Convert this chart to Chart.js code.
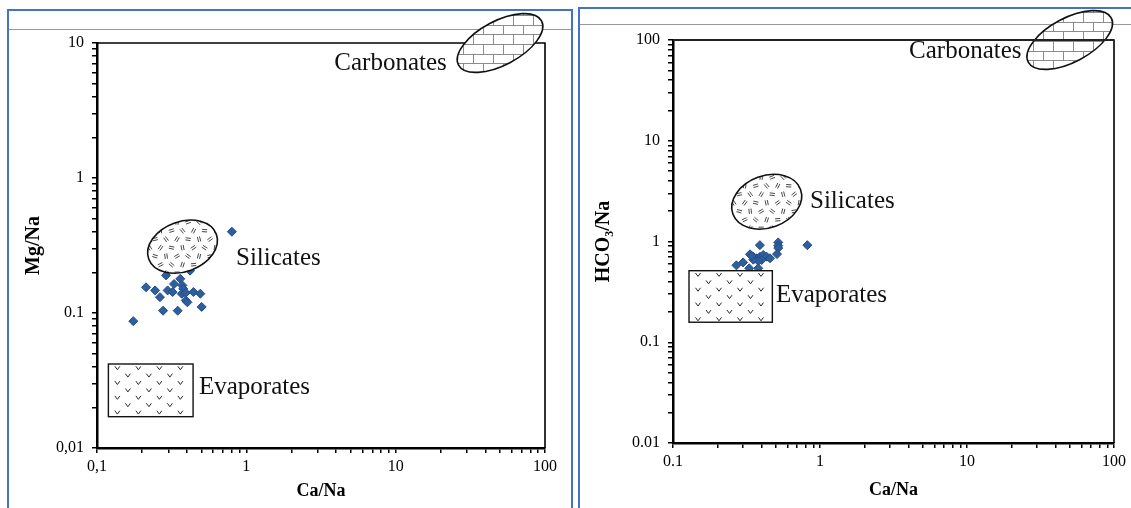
<!DOCTYPE html>
<html>
<head>
<meta charset="utf-8">
<script src="https://cdn.jsdelivr.net/npm/chart.js@4.4.1/dist/chart.umd.min.js"></script>
<style>
html,body{margin:0;padding:0;background:#fff;width:1131px;height:508px;overflow:hidden}
.panel{position:absolute;border:2px solid #4472C4;border-bottom:none;box-sizing:border-box}
#pl{left:7px;top:9px;width:566px;height:520px}
#pr{left:578px;top:7px;width:600px;height:520px}
.rule{position:absolute;left:0;right:0;height:0;border-top:1.5px solid #999}
canvas{position:absolute;top:0}
#cl{left:0}
#cr{left:575px}
</style>
</head>
<body>
<div class="panel" id="pl"><div class="rule" style="top:18px"></div></div>
<div class="panel" id="pr"><div class="rule" style="top:15px"></div></div>
<canvas id="cl" width="575" height="508"></canvas>
<canvas id="cr" width="556" height="508"></canvas>
<script>
/* ─ data: left panel, Ca/Na vs Mg/Na ─ */
const caNaL=[0.80,0.175,0.213,0.245,0.264,0.29,0.277,0.297,0.321,0.328,0.361,0.347,0.373,0.378,0.369,0.393,0.393,0.403,0.442,0.492,0.502,0.42];
const mgNa =[0.40,0.087,0.155,0.147,0.131,0.19,0.104,0.147,0.143,0.164,0.179,0.104,0.160,0.151,0.139,0.141,0.124,0.120,0.143,0.139,0.111,0.206];

/* ─ data: right panel, Ca/Na vs HCO3/Na ─ */
const caNaR =[0.39,0.52,0.52,0.52,0.82,0.51,0.27,0.30,0.334,0.352,0.371,0.391,0.411,0.434,0.457,0.401,0.38,0.352,0.343,0.33,0.38];
const hco3Na=[0.92,0.98,0.91,0.86,0.92,0.75,0.58,0.62,0.746,0.706,0.681,0.706,0.735,0.706,0.681,0.655,0.64,0.66,0.72,0.542,0.542];

/* ─ axis decades + labels ─ */
const xDecades=[0.1,1,10,100];
const xLabelsL=['0,1','1','10','100'];
const xLabelsR=['0.1','1','10','100'];
const yDecadesL=[0.01,0.1,1,10];
const yLabelsL=['0,01','0.1','1','10'];
const yDecadesR=[0.01,0.1,1,10,100];
const yLabelsR=['0.01','0.1','1','10','100'];

const regionNames=['Carbonates','Silicates','Evaporates'];

const FONT='"Liberation Serif","Times New Roman",serif';

const lbl=(decs,labs)=>v=>{const i=decs.findIndex(d=>Math.abs(v/d-1)<1e-6);return i<0?'':labs[i]};
const logTicks=decs=>{const t=[];decs.forEach((d,i)=>{if(i<decs.length-1){for(let k=1;k<10;k++)t.push({value:d*k})}else t.push({value:d})});return t};

/* ─ fills ─ */
function bricks(c,cx,cy,rx,ry){
  const h=9.6,w=20;
  c.strokeStyle='#8c8c8c';c.lineWidth=1;c.beginPath();
  let row=0;
  for(let y=cy-ry-h*2;y<=cy+ry+h;y+=h,row++){
    const yy=Math.round(y)+0.5;
    c.moveTo(cx-rx-w,yy);c.lineTo(cx+rx+w,yy);
    const off=(row%2)*w/2;
    for(let x=cx-rx-w+off;x<=cx+rx+w;x+=w){const xx=Math.round(x)+0.5;c.moveTo(xx,yy);c.lineTo(xx,yy+h)}
  }
  c.stroke();
}
function dashes(c,cx,cy,rx,ry){
  c.strokeStyle='#333';c.lineWidth=0.9;c.beginPath();
  let k=0,row=0;
  for(let y=cy-ry+3;y<=cy+ry;y+=8.5,row++){
    for(let x=cx-rx+3+(row%2)*5.5;x<=cx+rx;x+=11,k++){
      const ang=((k*67+row*29)%180)*Math.PI/180;
      const dx=Math.cos(ang)*2.6,dy=Math.sin(ang)*2.6,nx=-Math.sin(ang)*1.1,ny=Math.cos(ang)*1.1;
      for(const s of[-1,1]){c.moveTo(x-dx+nx*s,y-dy+ny*s);c.lineTo(x+dx+nx*s,y+dy+ny*s)}
    }
  }
  c.stroke();
}
function vees(c,x0,y0,x1,y1){
  c.strokeStyle='#2a2a2a';c.lineWidth=1;c.beginPath();
  let r=0;
  for(let y=y0+4;y<y1-1;y+=7.4,r++){
    for(let x=x0+9+(r%2)*10.5;x<x1-3;x+=21){c.moveTo(x-2.5,y-1.7);c.lineTo(x,y+1.7);c.lineTo(x+2.5,y-1.7)}
  }
  c.stroke();
}
function oval(c,cx,cy,a,b,rot,fill){
  c.save();
  c.beginPath();c.ellipse(cx,cy,a,b,rot,0,Math.PI*2);
  c.fillStyle='#fff';c.fill();
  c.save();c.clip();fill();c.restore();
  c.beginPath();c.ellipse(cx,cy,a,b,rot,0,Math.PI*2);
  c.strokeStyle='#111';c.lineWidth=1.6;c.stroke();
  c.restore();
}

/* ─ plugin: frame + region sketches ─ */
const regions={
  id:'regions',
  beforeDatasetsDraw(chart){
    const a=chart.chartArea,c=chart.ctx;
    c.save();c.strokeStyle='#000';c.lineWidth=1.6;c.beginPath();
    c.moveTo(a.left,a.top);c.lineTo(a.right,a.top);c.lineTo(a.right,a.bottom);c.stroke();c.restore();
  },
  afterDatasetsDraw(chart,args,o){
    const c=chart.ctx,sx=chart.scales.x,sy=chart.scales.y,a=chart.chartArea;
    const px=v=>sx.getPixelForValue(v),py=v=>sy.getPixelForValue(v);
    const deg=Math.PI/180;
    // carbonates
    const cb=o.carb,cx=px(cb.x),cy=py(cb.y);
    oval(c,cx,cy,cb.a,cb.b,cb.rot*deg,()=>bricks(c,cx,cy,cb.a,cb.a));
    // silicates
    const si=o.sil,sx0=px(si.x),sy0=py(si.y);
    oval(c,sx0,sy0,si.a,si.b,si.rot*deg,()=>dashes(c,sx0,sy0,si.a,si.a));
    // evaporates
    const ev=o.evap,x0=px(ev.x0),x1=px(ev.x1),y0=py(ev.y0),y1=py(ev.y1);
    c.save();c.fillStyle='#fff';c.fillRect(x0,y0,x1-x0,y1-y0);
    vees(c,x0,y0,x1,y1);
    c.strokeStyle='#111';c.lineWidth=1.4;c.strokeRect(x0,y0,x1-x0,y1-y0);c.restore();
    if(o.frameOver){
      c.save();c.strokeStyle='#222';c.lineWidth=1.8;c.beginPath();
      c.moveTo(a.left,a.top);c.lineTo(a.right,a.top);c.stroke();c.restore();
    }
    // labels
    c.save();c.font='25px '+FONT;c.fillStyle='#111';c.textBaseline='middle';
    o.labels.forEach((l,i)=>{c.textAlign=l.align||'left';c.fillText(regionNames[i],px(l.x),py(l.y))});
    c.restore();
  }
};

function axis(pos,min,max,decs,labs,title,size,titlePad,tickPad){
  return{
    type:'logarithmic',position:pos,min,max,
    border:{display:true,color:'#000',width:2.5},
    grid:{drawOnChartArea:false,drawTicks:true,tickLength:5,color:'#000',lineWidth:1.5},
    ticks:{autoSkip:false,maxRotation:0,padding:tickPad,color:'#000',font:{family:FONT,size:16},callback:lbl(decs,labs)},
    title:{display:true,text:title,color:'#000',font:{family:FONT,size:pos==='left'?20:18,weight:'bold'},padding:titlePad},
    afterBuildTicks(s){s.ticks=logTicks(decs)},
    afterFit(s){if(pos==='left')s.width=size;else s.height=size}
  };
}

function makeChart(id,xs,ys,x,y,pad,ann){
  return new Chart(document.getElementById(id),{
    type:'scatter',
    data:{datasets:[{
      data:xs.map((v,i)=>({x:v,y:ys[i]})),
      pointStyle:'rectRot',pointRadius:4.5,pointHoverRadius:4.5,
      backgroundColor:'#2F5E9F',borderColor:'#234C86',borderWidth:1
    }]},
    options:{
      responsive:false,animation:false,devicePixelRatio:1,
      layout:{padding:pad},
      plugins:{legend:{display:false},tooltip:{enabled:false},regions:ann},
      scales:{x,y}
    },
    plugins:[regions]
  });
}

makeChart('cl',caNaL,mgNa,
  axis('bottom',0.1,100,xDecades,xLabelsL,'Ca/Na',60,{top:0,bottom:6},4),
  axis('left',0.01,10,yDecadesL,yLabelsL,'Mg/Na',97,{top:22,bottom:0},8),
  {top:43,right:30,bottom:0,left:0},
  {carb:{x:50,y:10,a:47,b:22,rot:-28},
   sil:{x:0.374,y:0.31,a:36,b:25,rot:-20},
   evap:{x0:0.1192,x1:0.44,y0:0.0419,y1:0.01706},
   labels:[{x:22,y:7.1,align:'right'},{x:0.853,y:0.255},{x:0.482,y:0.0283}]});

makeChart('cr',caNaR,hco3Na,
  axis('bottom',0.1,100,xDecades,xLabelsR,'Ca/Na',65,{top:0,bottom:7},4),
  axis('left',0.01,100,yDecadesR,yLabelsR,'HCO₃/Na',98,{top:17,bottom:0},8),
  {top:40,right:17,bottom:0,left:0},
  {carb:{x:50,y:100,a:47,b:22,rot:-28},
   sil:{x:0.434,y:2.48,a:36,b:26,rot:-20},
   evap:{x0:0.1285,x1:0.474,y0:0.513,y1:0.158},
   labels:[{x:23.5,y:76.5,align:'right'},{x:0.855,y:2.48},{x:0.502,y:0.294}],
   frameOver:true});
</script>
</body>
</html>
